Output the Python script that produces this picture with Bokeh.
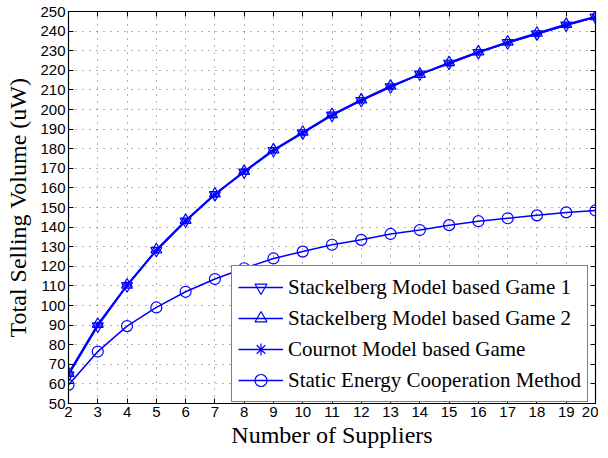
from bokeh.plotting import figure
from bokeh.models import LinearAxis, FixedTicker, Legend, LegendItem, Range1d
from bokeh.embed import file_html
from bokeh.resources import INLINE

suppliers = list(range(2, 21))
stack1 = [64.5, 89.5, 110, 128, 143, 156.5, 168, 179, 188, 197, 204.5, 211.5, 218, 223.5, 229, 234, 238.5, 243, 247]
stack2 = [65.5, 90.5, 110.5, 128.5, 143.5, 157, 168.5, 179.5, 188.5, 197.5, 205, 212, 218, 224, 229.5, 234.5, 239, 243.5, 247.5]
cournot = [65, 90, 110.5, 128, 143, 156.5, 168.5, 179, 188, 197, 204.5, 211.5, 218, 223.5, 229, 234, 238.5, 243, 247]
static = [59.5, 76.5, 89.5, 99, 107, 113.5, 119, 124, 127.5, 131, 133.5, 136.5, 138.5, 141, 143, 144.5, 146, 147.5, 148.5]
x_ticks = list(range(2, 21))
y_ticks = list(range(50, 251, 10))
labels = ["Stackelberg Model based Game 1", "Stackelberg Model based Game 2",
          "Cournot Model based Game", "Static Energy Cooperation Method"]

BLUE = "#0000ff"
SERIF = "Liberation Serif"
SANS = "Liberation Sans"

p = figure(width=598, height=450, output_backend="svg", toolbar_location=None,
           x_range=Range1d(2, 20), y_range=Range1d(50, 250),
           x_axis_location=None, y_axis_location=None)
p.min_border_left = 68
p.min_border_right = 3
p.min_border_top = 11
p.min_border_bottom = 46
p.outline_line_color = "black"
p.outline_line_width = 1.2
p.background_fill_color = "white"
p.border_fill_color = "white"

def mk_axis(loc, show_labels):
    ax = LinearAxis(ticker=FixedTicker(ticks=x_ticks if loc in ("below", "above") else y_ticks))
    ax.major_tick_in = 5
    ax.major_tick_out = 0
    ax.minor_tick_line_color = None
    ax.axis_line_color = "black"
    ax.major_tick_line_color = "black"
    if show_labels:
        ax.major_label_text_font = SANS
        ax.major_label_text_font_size = "15px"
        ax.major_label_text_color = "black"
        ax.major_label_standoff = 3
    else:
        ax.major_label_text_font_size = "0px"
        ax.major_label_text_color = None
        ax.major_label_standoff = 0
    return ax

xb = mk_axis("below", True)
xb.axis_label = "Number of Suppliers"
xb.axis_label_text_font = SERIF
xb.axis_label_text_font_size = "24px"
xb.axis_label_text_font_style = "normal"
xb.axis_label_text_color = "black"
xb.axis_label_standoff = 2
p.add_layout(xb, "below")

yl = mk_axis("left", True)
yl.axis_label = "Total Selling Volume (uW)"
yl.axis_label_text_font = SERIF
yl.axis_label_text_font_size = "24px"
yl.axis_label_text_font_style = "normal"
yl.axis_label_text_color = "black"
yl.axis_label_standoff = 6
p.add_layout(yl, "left")

xt = mk_axis("above", False)
p.add_layout(xt, "above")
yr = mk_axis("right", False)
p.add_layout(yr, "right")

p.xgrid.ticker = FixedTicker(ticks=x_ticks)
p.ygrid.ticker = FixedTicker(ticks=y_ticks)
for g in (p.xgrid, p.ygrid):
    g.grid_line_color = "#555555"
    g.grid_line_dash = "1 6"
    g.grid_line_width = 1
    g.grid_line_alpha = 0.9

items = []
specs = [(stack1, "inverted_triangle"), (stack2, "triangle"), (cournot, "asterisk"), (static, "circle")]
for (vals, m), lab in zip(specs, labels):
    ln = p.line(suppliers, vals, line_color=BLUE, line_width=1.5)
    sc = p.scatter(suppliers, vals, marker=m, size=11 if m != "asterisk" else 7,
                   line_color=BLUE, fill_alpha=0, line_width=1.2)
    items.append(LegendItem(label=lab, renderers=[ln, sc]))

leg = Legend(items=items, location=(163, 1))
leg.label_text_font = SERIF
leg.label_text_font_size = "21px"
leg.label_text_color = "black"
leg.glyph_width = 45
leg.glyph_height = 30
leg.label_height = 30
leg.spacing = 1
leg.padding = 6
leg.margin = 0
leg.label_standoff = 5
leg.border_line_color = "black"
leg.border_line_width = 1.5
leg.background_fill_color = "white"
leg.background_fill_alpha = 1
p.add_layout(leg, "center")

open("out.html", "w").write(file_html(p, INLINE))
